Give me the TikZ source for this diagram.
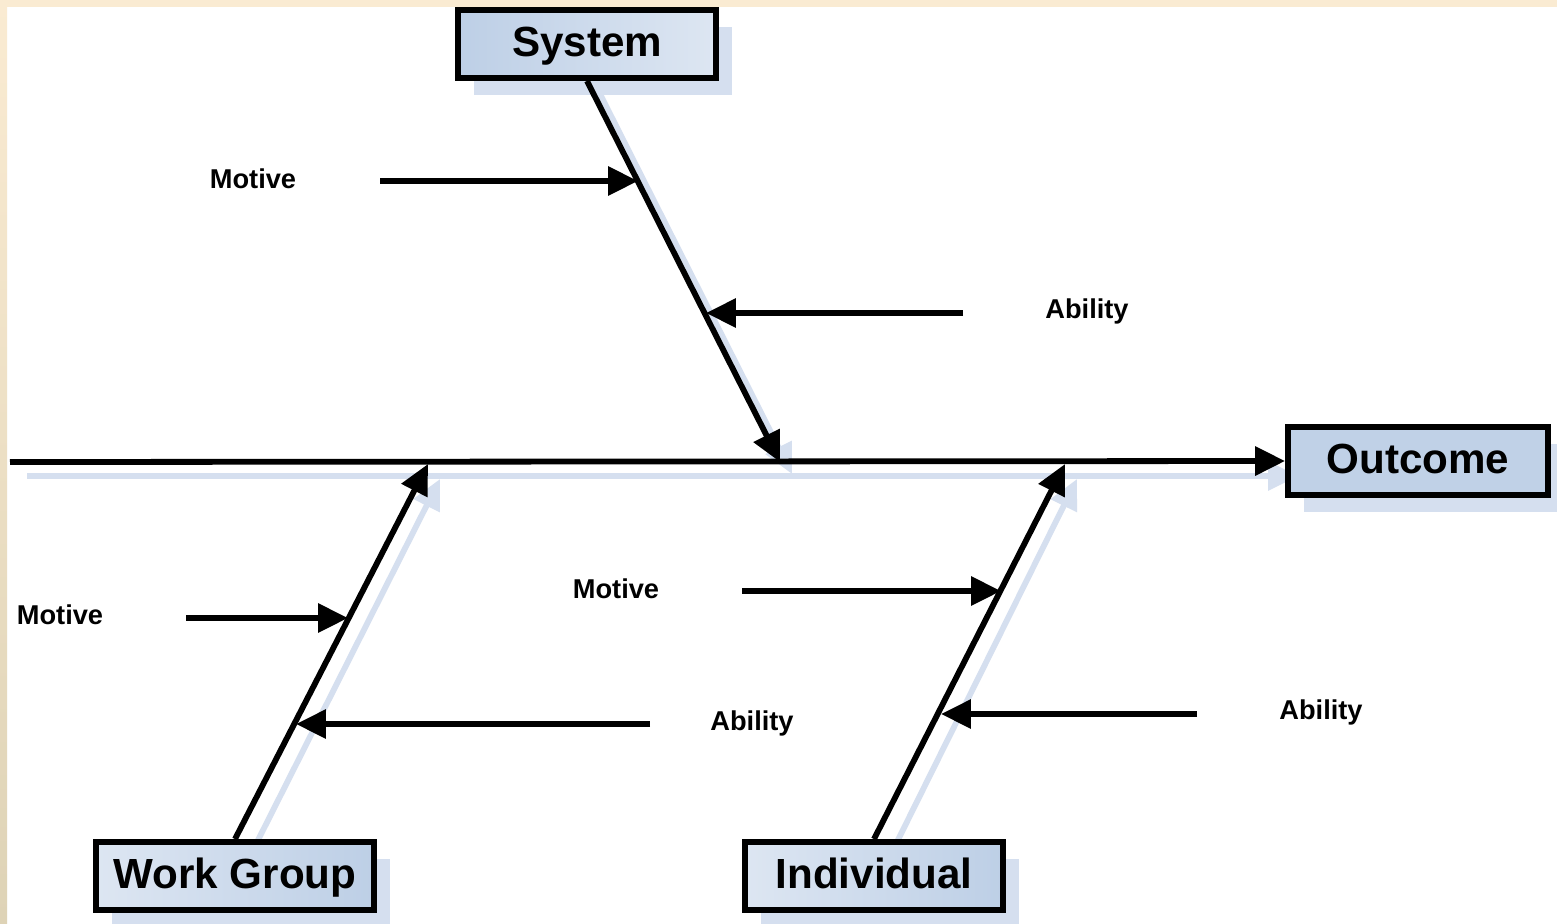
\documentclass[tikz,border=0pt]{standalone}
\usepackage{fontspec}
\setmainfont{Liberation Sans}
\usetikzlibrary{arrows.meta,shadows}
\definecolor{shadowc}{HTML}{D5DFEF}
\definecolor{creamc}{HTML}{FAEBD2}
\definecolor{tanc}{HTML}{DED3B6}
\definecolor{bluea}{HTML}{BDCFE6}
\definecolor{blueb}{HTML}{DDE6F2}
\tikzset{
  box/.style={draw=black, line width=3.4pt, minimum height=1.36cm, inner sep=0pt,
    text height=17.3pt, text depth=3.3pt,
    font=\fontsize{24}{28}\selectfont\bfseries,
    drop shadow={shadow xshift=0.32cm, shadow yshift=-0.34cm, fill=shadowc, opacity=1}},
  lbl/.style={font=\fontsize{15.5}{18}\selectfont\bfseries, inner sep=0pt},
  bone/.style={draw=black, line width=3.3pt, -{Triangle[length=17pt,width=16pt]}},
  bonesh/.style={draw=shadowc, line width=3.3pt, -{Triangle[length=17pt,width=16pt]}},
  branch/.style={draw=black, line width=3.1pt, -{Triangle[length=17pt,width=16pt]}}
}
\begin{document}
\begin{tikzpicture}[x=0.02cm,y=-0.02cm]
\useasboundingbox (0,0) rectangle (1557,923);
\fill[white] (0,0) rectangle (1557,923);
\fill[creamc] (0,0) rectangle (1557,7);
\shade[top color=creamc, bottom color=tanc] (0,0) rectangle (7,923);

% shadows of the bones
\draw[bonesh] (27,476) -- (1298,476);
\draw[bonesh] (600,94) -- (792,474);
\draw[bonesh] (250,856) -- (440,479);
\draw[bonesh] (890,856) -- (1077,479);

% boxes
\node[box, minimum width=5.16cm, left color=bluea, right color=blueb] (sys) at (587,44) {System};
\node[box, minimum width=5.2cm, fill=bluea!95!white] (out) at (1418,461) {Outcome};
\node[box, minimum width=5.56cm, left color=blueb, right color=bluea] (wg) at (235,876) {Work Group};
\node[box, minimum width=5.16cm, left color=blueb, right color=bluea] (ind) at (874,876) {Individual};

% spine
\coordinate (tail) at (10,462);
\coordinate (j1) at (780,462);
\coordinate (j2) at (428,464);
\coordinate (j3) at (1065,464);
\draw[bone] (tail) -- (out.west);
\draw[bone] (sys.south) -- (j1);
\draw[bone] (wg.north) -- (j2);
\draw[bone] (ind.north) -- (j3);

% branch coordinates
\coordinate (m1s) at (380,181);  \coordinate (m1e) at (638,181);
\coordinate (a1s) at (963,313);  \coordinate (a1e) at (706,313);
\coordinate (m2s) at (186,618);  \coordinate (m2e) at (348,618);
\coordinate (a2s) at (650,724);  \coordinate (a2e) at (296,724);
\coordinate (m3s) at (742,591);  \coordinate (m3e) at (1001,591);
\coordinate (a3s) at (1197,714); \coordinate (a3e) at (941,714);

\draw[branch] (m1s) -- (m1e);
\draw[branch] (a1s) -- (a1e);
\draw[branch] (m2s) -- (m2e);
\draw[branch] (a2s) -- (a2e);
\draw[branch] (m3s) -- (m3e);
\draw[branch] (a3s) -- (a3e);

% labels
\node[lbl] (lm1) at (253,179) {Motive};
\node[lbl] (la1) at (1087,311) {Ability};
\node[lbl] (lm2) at (60,615) {Motive};
\node[lbl] (la2) at (752,723) {Ability};
\node[lbl] (lm3) at (616,589) {Motive};
\node[lbl] (la3) at (1321,712) {Ability};
\end{tikzpicture}
\end{document}
